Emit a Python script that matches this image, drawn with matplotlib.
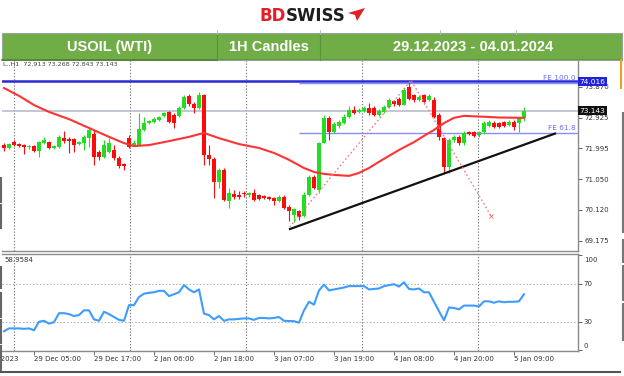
import matplotlib
matplotlib.use("Agg")
import matplotlib.pyplot as plt
import matplotlib.transforms as mtrans
from matplotlib.patches import Rectangle, Polygon
import numpy as np

# ---------------- data ----------------
opens = [72.10, 72.01, 72.19, 72.13, 72.10, 72.04, 72.07, 71.92, 72.16, 72.19,
         72.01, 72.04, 72.31, 72.28, 72.28, 72.13, 72.16, 72.31, 72.44, 71.89,
         71.74, 71.89, 71.95, 71.71, 71.52, 72.31, 72.10, 72.10, 72.56, 72.77,
         72.80, 72.86, 72.99, 73.11, 73.02, 72.99, 73.23, 73.60, 73.35, 73.23,
         73.63, 71.80, 71.68, 70.97, 71.34, 70.40, 70.61, 70.58, 70.64, 70.58,
         70.64, 70.58, 70.55, 70.52, 70.49, 70.40, 70.52, 70.21, 69.97, 70.09,
         69.94, 70.58, 71.13, 70.73, 72.16, 72.93, 72.50, 72.68, 72.77, 72.96,
         73.17, 73.11, 73.14, 73.23, 73.23, 73.02, 73.11, 73.26, 73.44, 73.50,
         73.32, 73.87, 73.63, 73.47, 73.63, 73.47, 73.47, 73.02, 72.31, 71.43,
         72.25, 72.35, 72.16, 72.50, 72.50, 72.41, 72.50, 72.68, 72.77, 72.77,
         72.80, 72.71, 72.80, 72.77, 72.913]
highs = [72.16, 72.16, 72.25, 72.16, 72.13, 72.10, 72.10, 72.22, 72.35, 72.22,
         72.10, 72.41, 72.53, 72.35, 72.31, 72.22, 72.41, 72.65, 72.56, 71.95,
         72.25, 72.31, 72.10, 71.77, 71.55, 72.41, 72.25, 73.08, 72.96, 72.86,
         72.96, 72.99, 73.11, 73.14, 73.08, 73.29, 73.63, 73.66, 73.41, 73.72,
         73.66, 72.10, 71.74, 71.40, 71.40, 70.79, 70.73, 70.70, 70.70, 70.67,
         70.76, 70.61, 70.58, 70.55, 70.52, 70.58, 70.58, 70.27, 70.18, 70.12,
         70.67, 71.19, 71.19, 72.19, 73.02, 72.99, 72.80, 72.86, 73.05, 73.29,
         73.29, 73.23, 73.29, 73.38, 73.29, 73.20, 73.32, 73.53, 73.47, 73.57,
         73.84, 74.016, 73.66, 73.63, 73.66, 73.66, 73.57, 73.08, 72.35, 72.31,
         72.41, 72.41, 72.53, 72.53, 72.53, 72.53, 72.83, 72.86, 72.83, 72.80,
         72.83, 72.86, 72.86, 72.96, 73.268]
lows = [71.92, 71.98, 72.07, 72.04, 71.83, 71.98, 71.89, 71.74, 72.13, 71.98,
        71.98, 72.01, 72.16, 71.86, 71.89, 72.10, 71.95, 72.04, 71.49, 71.65,
        71.71, 71.86, 71.65, 71.40, 71.34, 72.01, 72.07, 72.07, 72.53, 72.74,
        72.77, 72.83, 72.96, 72.77, 72.62, 72.96, 73.20, 73.29, 73.08, 73.20,
        71.49, 71.49, 70.49, 70.79, 70.40, 70.18, 70.46, 70.46, 70.52, 70.52,
        70.40, 70.43, 70.46, 70.43, 70.27, 70.37, 70.15, 69.79, 69.75, 69.82,
        69.91, 70.55, 70.76, 70.64, 72.16, 72.25, 72.47, 72.62, 72.74, 72.93,
        73.05, 73.08, 73.11, 73.02, 72.99, 72.99, 73.08, 73.23, 73.29, 73.29,
        73.32, 73.47, 73.41, 73.44, 73.35, 73.44, 72.93, 72.25, 71.25, 71.25,
        72.19, 72.10, 72.10, 72.41, 72.35, 72.35, 72.47, 72.65, 72.62, 72.62,
        72.65, 72.68, 72.56, 72.50, 72.843]
closes = [72.01, 72.13, 72.10, 72.07, 72.04, 72.07, 71.92, 72.19, 72.25, 72.01,
          72.07, 72.35, 72.22, 72.22, 72.10, 72.19, 72.35, 72.56, 71.74, 71.74,
          72.10, 72.16, 71.71, 71.46, 71.46, 72.04, 72.16, 72.59, 72.77, 72.83,
          72.89, 72.96, 73.08, 72.80, 72.77, 73.23, 73.57, 73.35, 73.23, 73.63,
          71.80, 71.68, 70.97, 71.34, 70.43, 70.64, 70.52, 70.52, 70.61, 70.64,
          70.43, 70.46, 70.49, 70.46, 70.40, 70.52, 70.18, 70.09, 70.15, 69.91,
          70.58, 71.13, 70.79, 72.16, 72.93, 72.50, 72.74, 72.80, 72.96, 73.17,
          73.08, 73.17, 73.23, 73.08, 73.02, 73.14, 73.26, 73.47, 73.35, 73.32,
          73.78, 73.50, 73.47, 73.57, 73.41, 73.60, 72.96, 72.35, 71.43, 72.25,
          72.35, 72.16, 72.47, 72.44, 72.38, 72.50, 72.77, 72.80, 72.65, 72.65,
          72.68, 72.80, 72.65, 72.913, 73.143]

ma_bars = [0, 3, 6, 9, 13, 17, 21, 24, 26, 29, 33, 37, 40, 43, 47, 51, 54, 57, 60, 62,
           64, 66, 69, 71, 73, 75, 79, 82, 84, 86, 88, 90, 92, 95, 99, 104]
ma_vals = [73.84, 73.60, 73.32, 73.11, 72.89, 72.62, 72.35, 72.16, 72.07, 72.10,
           72.22, 72.35, 72.47, 72.31, 72.13, 72.01, 71.86, 71.65, 71.40, 71.28,
           71.22, 71.19, 71.16, 71.25, 71.40, 71.59, 71.95, 72.19, 72.38, 72.56,
           72.77, 72.93, 72.99, 72.97, 72.94, 72.93]

rsi = [20, 23, 23, 23, 22.5, 23, 21, 30, 31, 28,
       29.5, 39, 39, 38, 36, 37, 42, 42, 32.5, 31,
       40.5, 38, 35, 32, 31, 47.5, 47.5, 56, 59.5, 60.5,
       61, 62.5, 62.5, 57, 59, 61, 68.6, 64, 61, 64,
       38.5, 37, 32.5, 36, 31, 32.5, 32.5, 33, 33.5, 33.5,
       32, 34, 34, 33.5, 34, 35, 31, 30.8, 30.6, 29,
       42, 51, 48, 63, 69, 63, 64, 65, 66, 67.5,
       67.5, 67.5, 67.5, 64, 64.5, 65, 67.5, 68.5, 69.5, 67,
       71.5, 64.5, 64, 65, 61, 61, 51, 41, 31.5, 45,
       44.5, 43, 47, 47, 47, 46, 51.5, 51.5, 50, 51.5,
       50.5, 51, 51, 51.5, 58.96]

price_ticks = [73.870, 72.925, 71.995, 71.050, 70.120, 69.175]
price_tick_labels = ["73.870", "72.925", "71.995", "71.050", "70.120", "69.175"]
level_high = 74.016
level_last = 73.143
fe100 = 73.99
fe618 = 72.48
fe_start_bar = 59
trend_bars = [57.2, 110.2]
trend_prices = [69.54, 72.45]
fib_ab_bars = [57.1, 81.3]
fib_ab_prices = [69.60, 74.05]
fib_bc_bars = [81.5, 97.4]
fib_bc_prices = [74.05, 69.94]

time_bars = [-6, 6, 18, 30, 42, 54, 66, 78, 90, 102]
time_labels = ["28 Dec 2023", "29 Dec 05:00", "29 Dec 17:00", "2 Jan 06:00", "2 Jan 18:00",
               "3 Jan 07:00", "3 Jan 19:00", "4 Jan 08:00", "4 Jan 20:00", "5 Jan 09:00"]
grid_bars = [2, 25.2, 48.4, 71.6, 94.8]
rsi_levels = [70, 30]
rsi_tick_labels = ["100", "70", "30", "0"]

# ---------------- figure ----------------
W, H = 624, 376
fig = plt.figure(figsize=(W / 100, H / 100), dpi=100)
fig.patch.set_facecolor("white")


def rect(x0, y0, x1, y1):
    return [x0 / W, 1 - y1 / H, (x1 - x0) / W, (y1 - y0) / H]


GREEN = "#22dd22"
RED = "#ff0a0a"
GRIDC = "#7a7a7a"
AXC = "#8a8a8a"
XL = (-0.4, 114.8)

# ---- main price panel ----
ax = fig.add_axes(rect(2, 60, 578, 251))
ax.set_xlim(*XL)
ax.set_ylim(68.87, 74.693)
ax.set_facecolor("white")
for s in ["top", "left"]:
    ax.spines[s].set_visible(False)
for s in ["right", "bottom"]:
    ax.spines[s].set_color(AXC)
    ax.spines[s].set_linewidth(1.0)

for gb in grid_bars:
    ax.axvline(gb, color=GRIDC, ls=(0, (1.2, 1.6)), lw=0.8, zorder=1)

ax.axhline(level_high + 0.03, color="#2a2ad2", lw=1.8, zorder=2)
ax.axhline(level_last, color="#b9bdc9", lw=1.2, zorder=2)
ax.hlines(fe100, fe_start_bar, XL[1], color="#8a8aff", lw=1.0, zorder=2)
ax.hlines(fe618, fe_start_bar, XL[1], color="#8a8aff", lw=1.0, zorder=2)
ax.text(114.3, 74.15, "FE 100.0", ha="right", va="center", fontsize=5.3, color="#6a6aff", zorder=6)
ax.text(114.3, 72.61, "FE 61.8", ha="right", va="center", fontsize=5.3, color="#6a6aff", zorder=6)

o = np.array(opens); h = np.array(highs); l = np.array(lows); c = np.array(closes)
xb = np.arange(len(o))
cols = np.where(c >= o, GREEN, RED)
ax.vlines(xb, l, h, colors=cols, lw=0.8, zorder=3)
bh = np.maximum(np.abs(c - o), 0.035)
ax.bar(xb, bh, bottom=np.minimum(o, c), width=0.62, color=cols, linewidth=0, zorder=4)

ax.plot(ma_bars, ma_vals, color="#ff3333", lw=1.5, zorder=5, solid_joinstyle="round")
ax.plot(trend_bars, trend_prices, color="#111111", lw=1.6, zorder=5)
ax.plot(fib_ab_bars, fib_ab_prices, color="#f08080", ls=(0, (1.2, 1.8)), lw=1.0, zorder=5)
ax.plot(fib_bc_bars, fib_bc_prices, color="#f08080", ls=(0, (1.2, 1.8)), lw=1.0, zorder=5)
ax.plot([fib_bc_bars[1]], [fib_bc_prices[1]], marker="x", ms=2.5, mew=0.7, color="#f08080", zorder=5)

ax.set_xticks([])
ax.yaxis.tick_right()
ax.set_yticks(price_ticks)
ax.set_yticklabels(price_tick_labels)
ax.tick_params(axis="y", length=3, width=0.6, colors="#444444", labelsize=5, pad=1.5)
for lab in ax.get_yticklabels():
    lab.set_color("#333333")

btr = mtrans.blended_transform_factory(ax.transAxes, ax.transData)
ax.text(1.002, level_high + 0.01, "74.016", transform=btr, ha="left", va="center", fontsize=5.3,
        color="white", zorder=10, clip_on=False,
        bbox=dict(boxstyle="square,pad=0.22", fc="#2222dd", ec="none"))
ax.text(1.002, level_last, "73.143", transform=btr, ha="left", va="center", fontsize=5.3,
        color="white", zorder=10, clip_on=False,
        bbox=dict(boxstyle="square,pad=0.22", fc="#111111", ec="none"))
ax.text(0.002, 0.99, "L.,H1  72.913 73.268 72.843 73.143", transform=ax.transAxes,
        ha="left", va="top", fontsize=4.6, color="#444444", zorder=10)

# ---- RSI panel ----
ax2 = fig.add_axes(rect(2, 254, 578, 351))
ax2.set_xlim(*XL)
ax2.set_ylim(-0.8, 101.3)
ax2.spines["left"].set_visible(False)
for s in ["top", "right", "bottom"]:
    ax2.spines[s].set_color(AXC)
    ax2.spines[s].set_linewidth(1.0)
for gb in grid_bars:
    ax2.axvline(gb, color=GRIDC, ls=(0, (1.2, 1.6)), lw=0.8, zorder=1)
for lv in rsi_levels:
    ax2.axhline(lv, color="#b0b0b0", ls=(0, (1.5, 2)), lw=0.7, zorder=1)
ax2.plot(np.arange(len(rsi)), rsi, color="#3d9cff", lw=1.5, zorder=3, solid_joinstyle="round")
ax2.text(0.004, 0.935, "58.9584", transform=ax2.transAxes, ha="left", va="center",
         fontsize=5, color="#333333")

ax2.yaxis.tick_right()
ax2.set_yticks([100, 70, 30, 0])
ax2.set_yticklabels([])
ax2.tick_params(axis="y", length=3, width=0.6, colors="#444444")
btr2 = mtrans.blended_transform_factory(ax2.transAxes, ax2.transData)
for lab, yv in zip(rsi_tick_labels, [95.5, 70, 30, 4.5]):
    ax2.text(1.01, yv, lab, transform=btr2, ha="left", va="center", fontsize=5, color="#333333",
             clip_on=False)

ax2.set_xticks(time_bars[1:])
ax2.set_xticklabels([])
ax2.tick_params(axis="x", length=3, width=0.6, colors="#555555")
btx = mtrans.blended_transform_factory(ax2.transData, ax2.transAxes)
for tb, tl in zip(time_bars, time_labels):
    ax2.text(tb, -0.085, tl, transform=btx, ha="left", va="center", fontsize=5,
             color="#333333", clip_on=False)

# ---- overlay (header, logo, frame artefacts) ----
ov = fig.add_axes([0, 0, 1, 1], zorder=20)
ov.set_xlim(0, W)
ov.set_ylim(H, 0)
ov.axis("off")
ov.patch.set_alpha(0)

ov.add_patch(Rectangle((2, 33), 620, 27, fc="#70ad47", ec="#9aa59a", lw=0.8))
ov.plot([2, 217], [60, 60], color="#4f7f30", lw=1.2)
ov.plot([217, 622], [58.5, 58.5], color="#5f9a3c", lw=0.8)
for xd in [217, 320]:
    ov.plot([xd, xd], [33, 60], color="#5c9338", lw=0.8)
for xd in [217, 320, 440, 516]:
    ov.plot([xd, xd], [30, 34], color="#bbbbbb", lw=0.6)
hfont = dict(family=["Liberation Sans", "DejaVu Sans"], weight="bold", fontsize=10.5, color="white")
ov.text(110, 47, "USOIL (WTI)", ha="center", va="center", **hfont)
ov.text(269, 47, "1H Candles", ha="center", va="center", **hfont)
ov.text(473, 47, "29.12.2023 - 04.01.2024", ha="center", va="center", **hfont)

ov.text(286, 16, "BD", ha="right", va="center", fontsize=12, weight="bold", color="#e3202a",
        family="DejaVu Sans")
ov.text(286, 16, "SWISS", ha="left", va="center", fontsize=12, weight="bold", color="#1e1e1e",
        family="DejaVu Sans")
ov.add_patch(Polygon([(348, 13), (365, 8), (357, 21), (355, 15)], closed=True, fc="#e3202a", ec="none"))

ov.plot([621, 621], [60, 88], color="#f0a020", lw=1.5)
for y0, y1 in [(113, 175), (177, 203), (205, 232), (240, 262), (266, 300), (304, 340)]:
    ov.plot([622.5, 622.5], [y0, y1], color="#777777", lw=1.5)
for y0, y1 in [(178, 202), (205, 228), (267, 288), (293, 317), (320, 343), (346, 370)]:
    ov.plot([1, 1], [y0, y1], color="#666666", lw=1.5)
ov.plot([0, 620], [371.5, 371.5], color="#555555", lw=1.5)

fig.savefig("out.png", dpi=100, facecolor="white")
